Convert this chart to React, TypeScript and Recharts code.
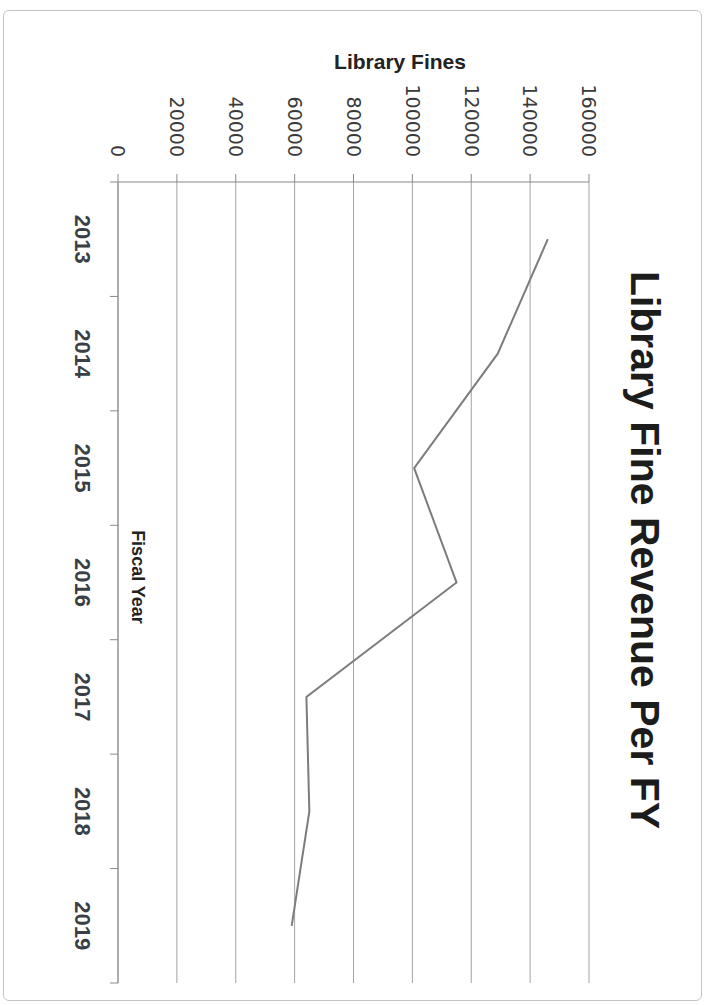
import { LineChart, Line, XAxis, YAxis, CartesianGrid } from "recharts";

const years = ["2013", "2014", "2015", "2016", "2017", "2018", "2019"];
const fines = [146000, 129000, 100600, 115000, 64000, 65000, 59000];
const valueTicks = [0, 20000, 40000, 60000, 80000, 100000, 120000, 140000, 160000];

const data = years.map((year, i) => ({ year, fines: fines[i] }));

// the chart is drawn upright, then the whole thing is turned 90deg clockwise like the scan
const CHART_W = 1005;
const CHART_H = 710;
const Y_AXIS_W = 182;
const RIGHT_M = 22;
const HALF_BAND = (CHART_W - Y_AXIS_W - RIGHT_M) / years.length / 2;

const axisColor = "#8a8a8a";
const gridColor = "#a3a3a3";

function CategoryTick(props: any) {
  const { x, y, payload, index } = props;
  return (
    <g>
      <line x1={x - HALF_BAND} x2={x - HALF_BAND} y1={y} y2={y + 8} stroke={axisColor} />
      {index === years.length - 1 && (
        <line x1={x + HALF_BAND} x2={x + HALF_BAND} y1={y} y2={y + 8} stroke={axisColor} />
      )}
      <text
        x={x}
        y={y + 36}
        textAnchor="middle"
        dominantBaseline="central"
        fill="#3a3f45"
        fontFamily="Liberation Sans, Arial, sans-serif"
        fontWeight="bold"
        fontSize={22}
      >
        {payload.value}
      </text>
    </g>
  );
}

export default function App() {
  return (
    <div style={{ position: "absolute", left: 0, top: 0, width: 710, height: 1005, background: "#fff", overflow: "hidden" }}>
      <div
        style={{
          position: "absolute",
          left: 3,
          top: 10,
          width: 697,
          height: 989,
          border: "1px solid #c4c4c4",
          borderRadius: 6,
        }}
      />
      <div
        style={{
          position: "absolute",
          left: 0,
          top: 0,
          width: CHART_W,
          height: CHART_H,
          transformOrigin: "0 0",
          transform: `translate(${CHART_H}px, 0) rotate(90deg)`,
        }}
      >
        <LineChart width={CHART_W} height={CHART_H} data={data} margin={{ top: 121, right: RIGHT_M, bottom: 0, left: 0 }}>
          <CartesianGrid vertical={false} stroke={gridColor} />
          <XAxis
            dataKey="year"
            height={118}
            padding={{ left: HALF_BAND, right: HALF_BAND }}
            interval={0}
            tickLine={false}
            tickSize={0}
            tickMargin={0}
            axisLine={{ stroke: axisColor }}
            tick={<CategoryTick />}
          />
          <YAxis
            width={Y_AXIS_W}
            domain={[0, 160000]}
            ticks={valueTicks}
            interval={0}
            tickSize={8}
            tickMargin={17}
            axisLine={{ stroke: axisColor }}
            tickLine={{ stroke: axisColor }}
            tick={{ fill: "#3a3a3a", fontSize: 19, fontFamily: "DejaVu Sans, sans-serif" }}
          />
          <Line
            type="linear"
            dataKey="fines"
            stroke="#7c7c7c"
            strokeWidth={2}
            dot={false}
            isAnimationActive={false}
          />
        </LineChart>
        <div
          style={{
            position: "absolute",
            left: 550,
            top: 45,
            transform: "translateX(-50%)",
            whiteSpace: "nowrap",
            fontFamily: "Liberation Sans, Arial, sans-serif",
            fontWeight: "bold",
            fontSize: 41,
            lineHeight: 1,
            color: "#1c1c1c",
          }}
        >
          Library Fine Revenue Per FY
        </div>
        <div
          style={{
            position: "absolute",
            left: 62,
            top: 310,
            transform: "translate(-50%, -50%) rotate(-90deg)",
            whiteSpace: "nowrap",
            fontFamily: "Liberation Sans, Arial, sans-serif",
            fontWeight: "bold",
            fontSize: 21,
            color: "#222",
          }}
        >
          Library Fines
        </div>
        <div
          style={{
            position: "absolute",
            left: 577,
            top: 573,
            transform: "translate(-50%, -50%)",
            whiteSpace: "nowrap",
            fontFamily: "Liberation Sans, Arial, sans-serif",
            fontWeight: "bold",
            fontSize: 18,
            color: "#222",
          }}
        >
          Fiscal Year
        </div>
      </div>
    </div>
  );
}
